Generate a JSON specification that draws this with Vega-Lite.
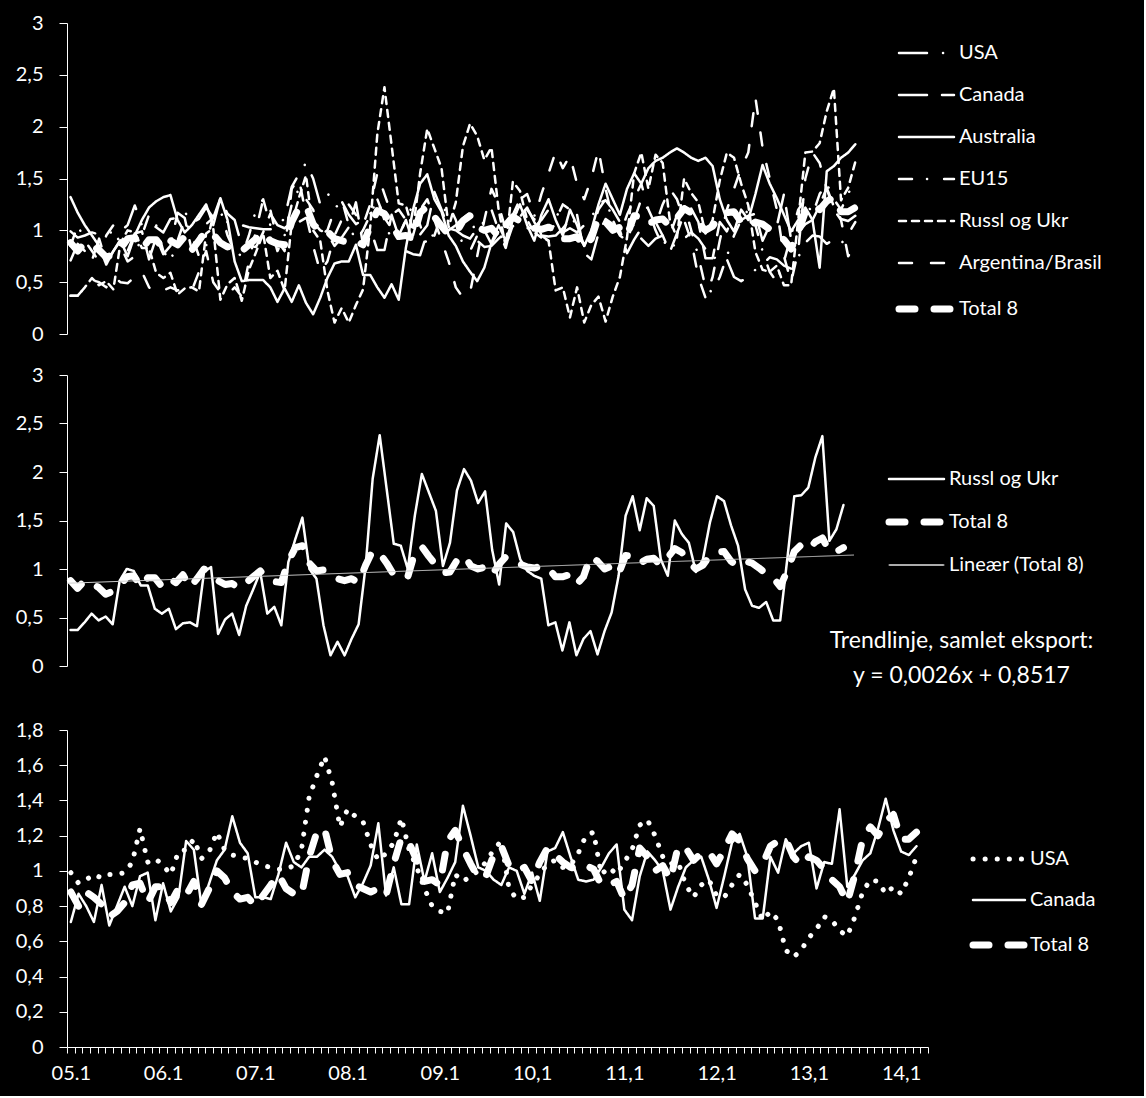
{
  "$schema": "https://vega.github.io/schema/vega-lite/v6.json",
  "background": "black",
  "padding": {"left": 15, "top": 13, "right": 42, "bottom": 13},
  "datasets": {
    "exports": [
      {"m":0,"USA":0.99,"Canada":0.71,"Australia":1.32,"EU15":0.85,"Russl og Ukr":0.37,"Argentina/Brasil":0.37,"Total 8":0.88},
      {"m":1,"USA":0.93,"Canada":0.87,"Australia":1.17,"EU15":1.05,"Russl og Ukr":0.37,"Argentina/Brasil":0.37,"Total 8":0.80},
      {"m":2,"USA":0.95,"Canada":0.80,"Australia":1.05,"EU15":0.90,"Russl og Ukr":0.45,"Argentina/Brasil":0.45,"Total 8":0.88},
      {"m":3,"USA":0.98,"Canada":0.71,"Australia":0.95,"EU15":0.80,"Russl og Ukr":0.54,"Argentina/Brasil":0.52,"Total 8":0.85},
      {"m":4,"USA":0.96,"Canada":0.92,"Australia":0.85,"EU15":0.70,"Russl og Ukr":0.47,"Argentina/Brasil":0.50,"Total 8":0.81},
      {"m":5,"USA":0.98,"Canada":0.69,"Australia":0.67,"EU15":0.95,"Russl og Ukr":0.51,"Argentina/Brasil":0.45,"Total 8":0.74},
      {"m":6,"USA":0.98,"Canada":0.80,"Australia":0.80,"EU15":1.05,"Russl og Ukr":0.43,"Argentina/Brasil":0.55,"Total 8":0.77},
      {"m":7,"USA":0.99,"Canada":0.91,"Australia":0.90,"EU15":0.85,"Russl og Ukr":0.88,"Argentina/Brasil":0.50,"Total 8":0.82},
      {"m":8,"USA":1.05,"Canada":0.80,"Australia":0.75,"EU15":0.70,"Russl og Ukr":1.00,"Argentina/Brasil":0.49,"Total 8":0.92},
      {"m":9,"USA":1.24,"Canada":0.97,"Australia":0.95,"EU15":0.75,"Russl og Ukr":0.98,"Argentina/Brasil":0.55,"Total 8":0.93},
      {"m":10,"USA":1.05,"Canada":0.99,"Australia":1.10,"EU15":0.95,"Russl og Ukr":0.83,"Argentina/Brasil":0.60,"Total 8":0.82},
      {"m":11,"USA":1.07,"Canada":0.72,"Australia":1.22,"EU15":1.15,"Russl og Ukr":0.83,"Argentina/Brasil":0.45,"Total 8":0.91},
      {"m":12,"USA":1.03,"Canada":0.93,"Australia":1.28,"EU15":1.05,"Russl og Ukr":0.59,"Argentina/Brasil":0.40,"Total 8":0.91},
      {"m":13,"USA":0.98,"Canada":0.77,"Australia":1.32,"EU15":0.80,"Russl og Ukr":0.54,"Argentina/Brasil":0.42,"Total 8":0.82},
      {"m":14,"USA":1.11,"Canada":0.85,"Australia":1.34,"EU15":0.70,"Russl og Ukr":0.59,"Argentina/Brasil":0.45,"Total 8":0.90},
      {"m":15,"USA":1.12,"Canada":1.17,"Australia":1.10,"EU15":0.90,"Russl og Ukr":0.38,"Argentina/Brasil":0.42,"Total 8":0.86},
      {"m":16,"USA":1.18,"Canada":1.12,"Australia":0.98,"EU15":1.10,"Russl og Ukr":0.44,"Argentina/Brasil":0.43,"Total 8":0.94},
      {"m":17,"USA":1.07,"Canada":0.80,"Australia":1.05,"EU15":0.95,"Russl og Ukr":0.45,"Argentina/Brasil":0.42,"Total 8":0.81},
      {"m":18,"USA":1.11,"Canada":0.93,"Australia":1.15,"EU15":0.75,"Russl og Ukr":0.41,"Argentina/Brasil":0.60,"Total 8":0.90},
      {"m":19,"USA":1.22,"Canada":1.06,"Australia":1.25,"EU15":0.85,"Russl og Ukr":0.97,"Argentina/Brasil":0.80,"Total 8":1.00},
      {"m":20,"USA":1.12,"Canada":1.12,"Australia":1.05,"EU15":1.15,"Russl og Ukr":1.02,"Argentina/Brasil":0.50,"Total 8":0.96},
      {"m":21,"USA":1.09,"Canada":1.31,"Australia":1.31,"EU15":1.20,"Russl og Ukr":0.33,"Argentina/Brasil":0.40,"Total 8":0.88},
      {"m":22,"USA":1.08,"Canada":1.16,"Australia":1.10,"EU15":0.95,"Russl og Ukr":0.48,"Argentina/Brasil":0.38,"Total 8":0.84},
      {"m":23,"USA":1.07,"Canada":1.10,"Australia":0.70,"EU15":0.80,"Russl og Ukr":0.54,"Argentina/Brasil":0.45,"Total 8":0.85},
      {"m":24,"USA":1.05,"Canada":0.85,"Australia":0.51,"EU15":0.75,"Russl og Ukr":0.32,"Argentina/Brasil":0.36,"Total 8":0.80},
      {"m":25,"USA":1.03,"Canada":0.85,"Australia":0.52,"EU15":0.95,"Russl og Ukr":0.62,"Argentina/Brasil":0.70,"Total 8":0.86},
      {"m":26,"USA":1.02,"Canada":0.84,"Australia":0.52,"EU15":1.20,"Russl og Ukr":0.79,"Argentina/Brasil":1.00,"Total 8":0.92},
      {"m":27,"USA":1.01,"Canada":0.98,"Australia":0.52,"EU15":1.30,"Russl og Ukr":0.97,"Argentina/Brasil":1.30,"Total 8":0.98},
      {"m":28,"USA":1.01,"Canada":1.16,"Australia":0.45,"EU15":1.05,"Russl og Ukr":0.54,"Argentina/Brasil":1.20,"Total 8":0.90},
      {"m":29,"USA":1.03,"Canada":1.05,"Australia":0.31,"EU15":0.80,"Russl og Ukr":0.61,"Argentina/Brasil":0.90,"Total 8":0.87},
      {"m":30,"USA":1.12,"Canada":1.02,"Australia":0.44,"EU15":0.95,"Russl og Ukr":0.42,"Argentina/Brasil":0.80,"Total 8":0.86},
      {"m":31,"USA":1.42,"Canada":1.08,"Australia":0.31,"EU15":1.25,"Russl og Ukr":1.07,"Argentina/Brasil":1.40,"Total 8":1.08},
      {"m":32,"USA":1.54,"Canada":1.08,"Australia":0.47,"EU15":1.40,"Russl og Ukr":1.31,"Argentina/Brasil":1.50,"Total 8":1.22},
      {"m":33,"USA":1.65,"Canada":1.12,"Australia":0.30,"EU15":1.30,"Russl og Ukr":1.53,"Argentina/Brasil":1.15,"Total 8":1.24},
      {"m":34,"USA":1.50,"Canada":1.08,"Australia":0.19,"EU15":1.20,"Russl og Ukr":1.00,"Argentina/Brasil":0.85,"Total 8":1.06},
      {"m":35,"USA":1.25,"Canada":1.00,"Australia":0.35,"EU15":0.95,"Russl og Ukr":0.90,"Argentina/Brasil":0.60,"Total 8":0.98},
      {"m":36,"USA":1.35,"Canada":0.97,"Australia":0.54,"EU15":1.00,"Russl og Ukr":0.42,"Argentina/Brasil":0.70,"Total 8":0.99},
      {"m":37,"USA":1.31,"Canada":0.85,"Australia":0.68,"EU15":1.20,"Russl og Ukr":0.11,"Argentina/Brasil":0.95,"Total 8":0.92},
      {"m":38,"USA":1.28,"Canada":0.93,"Australia":0.70,"EU15":1.30,"Russl og Ukr":0.25,"Argentina/Brasil":1.10,"Total 8":0.90},
      {"m":39,"USA":1.15,"Canada":1.03,"Australia":0.70,"EU15":1.05,"Russl og Ukr":0.11,"Argentina/Brasil":1.25,"Total 8":0.88},
      {"m":40,"USA":1.06,"Canada":1.27,"Australia":0.86,"EU15":0.90,"Russl og Ukr":0.28,"Argentina/Brasil":1.15,"Total 8":0.90},
      {"m":41,"USA":1.10,"Canada":0.86,"Australia":0.57,"EU15":1.00,"Russl og Ukr":0.43,"Argentina/Brasil":1.05,"Total 8":0.86},
      {"m":42,"USA":1.16,"Canada":1.02,"Australia":0.57,"EU15":1.15,"Russl og Ukr":1.03,"Argentina/Brasil":1.25,"Total 8":1.04},
      {"m":43,"USA":1.30,"Canada":0.81,"Australia":0.45,"EU15":1.30,"Russl og Ukr":1.93,"Argentina/Brasil":1.55,"Total 8":1.19},
      {"m":44,"USA":1.12,"Canada":0.81,"Australia":0.35,"EU15":1.10,"Russl og Ukr":2.38,"Argentina/Brasil":1.35,"Total 8":1.16},
      {"m":45,"USA":1.02,"Canada":1.15,"Australia":0.48,"EU15":0.90,"Russl og Ukr":1.82,"Argentina/Brasil":1.15,"Total 8":1.06},
      {"m":46,"USA":0.90,"Canada":0.94,"Australia":0.33,"EU15":0.95,"Russl og Ukr":1.26,"Argentina/Brasil":1.20,"Total 8":0.94},
      {"m":47,"USA":0.80,"Canada":1.10,"Australia":0.83,"EU15":1.10,"Russl og Ukr":1.24,"Argentina/Brasil":1.10,"Total 8":0.95},
      {"m":48,"USA":0.77,"Canada":0.88,"Australia":1.20,"EU15":1.25,"Russl og Ukr":1.00,"Argentina/Brasil":0.95,"Total 8":0.92},
      {"m":49,"USA":0.76,"Canada":0.96,"Australia":1.45,"EU15":1.05,"Russl og Ukr":1.55,"Argentina/Brasil":1.20,"Total 8":1.17},
      {"m":50,"USA":0.98,"Canada":1.05,"Australia":1.54,"EU15":0.85,"Russl og Ukr":1.98,"Argentina/Brasil":1.30,"Total 8":1.23},
      {"m":51,"USA":0.94,"Canada":1.37,"Australia":1.30,"EU15":0.95,"Russl og Ukr":1.79,"Argentina/Brasil":1.10,"Total 8":1.13},
      {"m":52,"USA":0.97,"Canada":1.20,"Australia":1.18,"EU15":1.15,"Russl og Ukr":1.60,"Argentina/Brasil":0.90,"Total 8":1.04},
      {"m":53,"USA":1.00,"Canada":1.02,"Australia":0.95,"EU15":1.25,"Russl og Ukr":1.03,"Argentina/Brasil":0.70,"Total 8":0.96},
      {"m":54,"USA":1.05,"Canada":1.00,"Australia":0.85,"EU15":1.10,"Russl og Ukr":1.27,"Argentina/Brasil":0.45,"Total 8":0.97},
      {"m":55,"USA":1.12,"Canada":0.95,"Australia":0.70,"EU15":0.85,"Russl og Ukr":1.81,"Argentina/Brasil":0.35,"Total 8":1.09},
      {"m":56,"USA":1.17,"Canada":0.92,"Australia":0.60,"EU15":0.80,"Russl og Ukr":2.03,"Argentina/Brasil":0.40,"Total 8":1.14},
      {"m":57,"USA":0.90,"Canada":1.02,"Australia":0.51,"EU15":0.95,"Russl og Ukr":1.91,"Argentina/Brasil":0.75,"Total 8":1.03},
      {"m":58,"USA":0.84,"Canada":1.00,"Australia":0.64,"EU15":1.10,"Russl og Ukr":1.68,"Argentina/Brasil":1.10,"Total 8":1.00},
      {"m":59,"USA":0.85,"Canada":0.87,"Australia":0.88,"EU15":1.20,"Russl og Ukr":1.80,"Argentina/Brasil":1.40,"Total 8":1.02},
      {"m":60,"USA":0.92,"Canada":0.99,"Australia":1.05,"EU15":1.00,"Russl og Ukr":1.20,"Argentina/Brasil":1.25,"Total 8":0.94},
      {"m":61,"USA":0.98,"Canada":0.83,"Australia":0.90,"EU15":0.85,"Russl og Ukr":0.84,"Argentina/Brasil":1.00,"Total 8":1.05},
      {"m":62,"USA":1.04,"Canada":1.11,"Australia":1.10,"EU15":1.05,"Russl og Ukr":1.47,"Argentina/Brasil":1.15,"Total 8":1.13},
      {"m":63,"USA":1.06,"Canada":1.13,"Australia":1.25,"EU15":1.30,"Russl og Ukr":1.38,"Argentina/Brasil":1.30,"Total 8":1.09},
      {"m":64,"USA":1.02,"Canada":1.22,"Australia":1.05,"EU15":1.35,"Russl og Ukr":1.10,"Argentina/Brasil":1.20,"Total 8":1.05},
      {"m":65,"USA":1.03,"Canada":1.08,"Australia":0.90,"EU15":1.15,"Russl og Ukr":0.98,"Argentina/Brasil":1.10,"Total 8":1.02},
      {"m":66,"USA":1.10,"Canada":0.95,"Australia":1.15,"EU15":0.95,"Russl og Ukr":0.93,"Argentina/Brasil":1.35,"Total 8":1.01},
      {"m":67,"USA":1.20,"Canada":0.94,"Australia":1.30,"EU15":0.90,"Russl og Ukr":0.90,"Argentina/Brasil":1.55,"Total 8":1.03},
      {"m":68,"USA":1.22,"Canada":0.95,"Australia":1.10,"EU15":1.10,"Russl og Ukr":0.42,"Argentina/Brasil":1.76,"Total 8":1.01},
      {"m":69,"USA":0.98,"Canada":1.02,"Australia":0.95,"EU15":1.25,"Russl og Ukr":0.45,"Argentina/Brasil":1.60,"Total 8":0.92},
      {"m":70,"USA":1.02,"Canada":1.10,"Australia":1.20,"EU15":1.20,"Russl og Ukr":0.16,"Argentina/Brasil":1.72,"Total 8":0.92},
      {"m":71,"USA":0.98,"Canada":1.15,"Australia":1.05,"EU15":1.00,"Russl og Ukr":0.45,"Argentina/Brasil":1.45,"Total 8":0.94},
      {"m":72,"USA":1.05,"Canada":0.78,"Australia":0.85,"EU15":0.85,"Russl og Ukr":0.11,"Argentina/Brasil":1.30,"Total 8":0.84},
      {"m":73,"USA":1.12,"Canada":0.72,"Australia":1.00,"EU15":1.00,"Russl og Ukr":0.28,"Argentina/Brasil":1.50,"Total 8":0.92},
      {"m":74,"USA":1.26,"Canada":0.97,"Australia":1.25,"EU15":1.20,"Russl og Ukr":0.36,"Argentina/Brasil":1.78,"Total 8":1.13},
      {"m":75,"USA":1.29,"Canada":1.11,"Australia":1.45,"EU15":1.30,"Russl og Ukr":0.12,"Argentina/Brasil":1.40,"Total 8":1.08},
      {"m":76,"USA":1.20,"Canada":1.06,"Australia":1.30,"EU15":1.10,"Russl og Ukr":0.36,"Argentina/Brasil":1.10,"Total 8":1.00},
      {"m":77,"USA":1.08,"Canada":1.00,"Australia":1.15,"EU15":0.95,"Russl og Ukr":0.55,"Argentina/Brasil":0.95,"Total 8":1.03},
      {"m":78,"USA":1.04,"Canada":0.78,"Australia":1.40,"EU15":0.90,"Russl og Ukr":0.93,"Argentina/Brasil":1.15,"Total 8":0.95},
      {"m":79,"USA":1.05,"Canada":0.91,"Australia":1.55,"EU15":1.10,"Russl og Ukr":1.55,"Argentina/Brasil":1.30,"Total 8":1.14},
      {"m":80,"USA":0.92,"Canada":1.02,"Australia":1.45,"EU15":1.30,"Russl og Ukr":1.75,"Argentina/Brasil":1.45,"Total 8":1.13},
      {"m":81,"USA":0.85,"Canada":1.06,"Australia":1.60,"EU15":1.20,"Russl og Ukr":1.40,"Argentina/Brasil":1.20,"Total 8":1.06},
      {"m":82,"USA":0.92,"Canada":1.08,"Australia":1.67,"EU15":1.00,"Russl og Ukr":1.73,"Argentina/Brasil":1.05,"Total 8":1.10},
      {"m":83,"USA":0.95,"Canada":0.95,"Australia":1.70,"EU15":0.85,"Russl og Ukr":1.65,"Argentina/Brasil":1.25,"Total 8":1.11},
      {"m":84,"USA":0.86,"Canada":0.79,"Australia":1.75,"EU15":0.95,"Russl og Ukr":1.10,"Argentina/Brasil":1.40,"Total 8":1.04},
      {"m":85,"USA":0.85,"Canada":0.97,"Australia":1.79,"EU15":1.15,"Russl og Ukr":0.93,"Argentina/Brasil":1.30,"Total 8":1.12},
      {"m":86,"USA":0.92,"Canada":1.16,"Australia":1.75,"EU15":1.25,"Russl og Ukr":1.50,"Argentina/Brasil":1.10,"Total 8":1.21},
      {"m":87,"USA":0.98,"Canada":1.21,"Australia":1.70,"EU15":1.00,"Russl og Ukr":1.36,"Argentina/Brasil":0.90,"Total 8":1.17},
      {"m":88,"USA":0.92,"Canada":1.08,"Australia":1.67,"EU15":0.75,"Russl og Ukr":1.27,"Argentina/Brasil":0.55,"Total 8":1.07},
      {"m":89,"USA":0.82,"Canada":0.73,"Australia":1.70,"EU15":0.45,"Russl og Ukr":0.97,"Argentina/Brasil":0.35,"Total 8":1.00},
      {"m":90,"USA":0.72,"Canada":0.73,"Australia":1.62,"EU15":0.40,"Russl og Ukr":1.10,"Argentina/Brasil":0.55,"Total 8":1.04},
      {"m":91,"USA":0.77,"Canada":1.08,"Australia":1.30,"EU15":0.55,"Russl og Ukr":1.48,"Argentina/Brasil":0.90,"Total 8":1.14},
      {"m":92,"USA":0.72,"Canada":0.99,"Australia":1.10,"EU15":0.75,"Russl og Ukr":1.75,"Argentina/Brasil":1.20,"Total 8":1.17},
      {"m":93,"USA":0.55,"Canada":1.18,"Australia":0.99,"EU15":0.95,"Russl og Ukr":1.70,"Argentina/Brasil":1.40,"Total 8":1.18},
      {"m":94,"USA":0.51,"Canada":1.10,"Australia":1.20,"EU15":1.10,"Russl og Ukr":1.45,"Argentina/Brasil":1.60,"Total 8":1.08},
      {"m":95,"USA":0.55,"Canada":1.14,"Australia":1.10,"EU15":1.20,"Russl og Ukr":1.24,"Argentina/Brasil":1.75,"Total 8":1.03},
      {"m":96,"USA":0.62,"Canada":1.16,"Australia":1.35,"EU15":1.05,"Russl og Ukr":0.79,"Argentina/Brasil":2.28,"Total 8":1.08},
      {"m":97,"USA":0.67,"Canada":0.90,"Australia":1.63,"EU15":0.80,"Russl og Ukr":0.62,"Argentina/Brasil":1.80,"Total 8":1.06},
      {"m":98,"USA":0.74,"Canada":1.05,"Australia":1.45,"EU15":0.60,"Russl og Ukr":0.60,"Argentina/Brasil":1.50,"Total 8":1.01},
      {"m":99,"USA":0.72,"Canada":1.04,"Australia":1.31,"EU15":0.50,"Russl og Ukr":0.66,"Argentina/Brasil":1.20,"Total 8":0.95},
      {"m":100,"USA":0.66,"Canada":1.35,"Australia":1.15,"EU15":0.70,"Russl og Ukr":0.47,"Argentina/Brasil":0.75,"Total 8":0.91},
      {"m":101,"USA":0.63,"Canada":0.91,"Australia":0.99,"EU15":0.95,"Russl og Ukr":0.47,"Argentina/Brasil":0.50,"Total 8":0.82},
      {"m":102,"USA":0.74,"Canada":0.98,"Australia":1.10,"EU15":1.20,"Russl og Ukr":1.10,"Argentina/Brasil":0.80,"Total 8":0.98},
      {"m":103,"USA":0.88,"Canada":1.06,"Australia":1.22,"EU15":1.30,"Russl og Ukr":1.75,"Argentina/Brasil":1.50,"Total 8":1.18},
      {"m":104,"USA":0.95,"Canada":1.10,"Australia":1.10,"EU15":1.15,"Russl og Ukr":1.76,"Argentina/Brasil":1.75,"Total 8":1.25},
      {"m":105,"USA":0.94,"Canada":1.24,"Australia":0.64,"EU15":1.35,"Russl og Ukr":1.84,"Argentina/Brasil":1.65,"Total 8":1.20},
      {"m":106,"USA":0.87,"Canada":1.41,"Australia":1.57,"EU15":1.45,"Russl og Ukr":2.15,"Argentina/Brasil":1.40,"Total 8":1.28},
      {"m":107,"USA":0.91,"Canada":1.23,"Australia":1.62,"EU15":1.30,"Russl og Ukr":2.37,"Argentina/Brasil":1.20,"Total 8":1.32},
      {"m":108,"USA":0.87,"Canada":1.11,"Australia":1.70,"EU15":1.20,"Russl og Ukr":1.29,"Argentina/Brasil":1.10,"Total 8":1.18},
      {"m":109,"USA":0.96,"Canada":1.09,"Australia":1.75,"EU15":1.35,"Russl og Ukr":1.41,"Argentina/Brasil":0.75,"Total 8":1.18},
      {"m":110,"USA":1.08,"Canada":1.14,"Australia":1.83,"EU15":1.50,"Russl og Ukr":1.66,"Argentina/Brasil":0.86,"Total 8":1.22}
    ],
    "trend": [
      {"m": -0.5, "series": "Lineær (Total 8)", "v": 0.853},
      {"m": 111.5, "series": "Lineær (Total 8)", "v": 1.144}
    ]
  },
  "spacing": 32,
  "resolve": {"scale": {"x": "independent", "y": "independent", "strokeDash": "independent"}, "legend": {"strokeDash": "independent"}},
  "vconcat": [
    {
      "spacing": 21,
      "resolve": {"scale": {"x": "independent", "y": "independent", "strokeDash": "independent"}, "legend": {"strokeDash": "independent"}},
      "vconcat": [
        {
          "width": 799,
          "height": 311,
          "data": {"name": "exports"},
          "transform": [{"fold": ["USA", "Canada", "Australia", "EU15", "Russl og Ukr", "Argentina/Brasil", "Total 8"], "as": ["series", "v"]}],
          "mark": {"type": "line", "color": "white", "strokeCap": "round", "strokeJoin": "round"},
          "encoding": {
            "x": {"field": "m", "type": "quantitative", "scale": {"domain": [-0.5, 111.5], "nice": false, "zero": false}, "axis": null},
            "y": {"field": "v", "type": "quantitative", "scale": {"domain": [0, 3], "nice": false}, "axis": {"title": null, "values": [0, 0.5, 1, 1.5, 2, 2.5, 3], "labelExpr": "replace(format(datum.value, ''), '.', ',')"}},
            "strokeDash": {
              "field": "series", "type": "nominal",
              "scale": {"domain": ["USA", "Canada", "Australia", "EU15", "Russl og Ukr", "Argentina/Brasil", "Total 8"],
                        "range": [[28, 16, 0.1, 16], [28, 15], [1, 0], [13, 15, 0.1, 17], [7, 6], [13, 19], [16, 19]]},
              "legend": {"title": null, "orient": "none", "direction": "vertical", "legendX": 822, "legendY": 20,
                         "symbolType": "M0,0H10", "symbolSize": 121, "labelOffset": 50, "rowPadding": 22,
                         "symbolStrokeWidth": {"expr": "datum.value === 'Total 8' ? 7 : 2.5"},
                         "encode": {"symbols": {"update": {"strokeCap": {"value": "round"}}}}}
            },
            "strokeWidth": {"condition": {"test": "datum.series === 'Total 8'", "value": 7}, "value": 2.5}
          }
        },
        {
          "width": 787,
          "height": 291,
          "layer": [
            {
              "data": {"name": "exports"},
              "transform": [{"fold": ["Russl og Ukr", "Total 8"], "as": ["series", "v"]}],
              "mark": {"type": "line", "color": "white", "strokeCap": "round", "strokeJoin": "round"},
              "encoding": {
                "x": {"field": "m", "type": "quantitative", "scale": {"domain": [-0.5, 111.5], "nice": false, "zero": false}, "axis": null},
                "y": {"field": "v", "type": "quantitative", "scale": {"domain": [0, 3], "nice": false}, "axis": {"title": null, "values": [0, 0.5, 1, 1.5, 2, 2.5, 3], "labelExpr": "replace(format(datum.value, ''), '.', ',')"}},
                "strokeDash": {
                  "field": "series", "type": "nominal",
                  "scale": {"domain": ["Russl og Ukr", "Total 8", "Lineær (Total 8)"], "range": [[1, 0], [16, 19], [1, 0]]},
                  "legend": {"title": null, "orient": "none", "direction": "vertical", "legendX": 812, "legendY": 94,
                             "symbolType": "M0,0H10", "symbolSize": 121, "labelOffset": 50, "rowPadding": 19,
                             "symbolStrokeWidth": {"expr": "datum.value === 'Total 8' ? 7 : (datum.value === 'Russl og Ukr' ? 2.5 : 1)"},
                             "encode": {"symbols": {"update": {"strokeCap": {"value": "round"}}}}}
                },
                "strokeWidth": {"condition": {"test": "datum.series === 'Total 8'", "value": 7}, "value": 2.5}
              }
            },
            {
              "data": {"name": "trend"},
              "mark": {"type": "line", "color": "#d0d0d0"},
              "encoding": {
                "x": {"field": "m", "type": "quantitative"},
                "y": {"field": "v", "type": "quantitative"},
                "strokeDash": {"field": "series", "type": "nominal"},
                "strokeWidth": {"value": 1}
              }
            },
            {
              "data": {"values": [{}]},
              "mark": {"type": "text", "color": "white", "font": "Lato", "fontSize": 23, "align": "center", "baseline": "middle", "lineHeight": 35},
              "encoding": {
                "x": {"datum": 126.8, "type": "quantitative"},
                "y": {"datum": 0.26, "type": "quantitative"},
                "text": {"value": ["Trendlinje, samlet eksport:", "y = 0,0026x + 0,8517"]}
              }
            }
          ]
        }
      ]
    },
    {
      "vconcat": [
        {
          "width": 861,
          "height": 317,
          "data": {"name": "exports"},
          "transform": [{"fold": ["USA", "Canada", "Total 8"], "as": ["series", "v"]}],
          "mark": {"type": "line", "color": "white", "strokeCap": "round", "strokeJoin": "round"},
          "encoding": {
            "x": {"field": "m", "type": "quantitative", "scale": {"domain": [-0.5, 111.5], "nice": false, "zero": false},
                  "axis": {"title": null, "tickSize": 6, "labelPadding": 10, "labelOffset": 3.84, "labelOverlap": false, "labelFlush": false, "labelBound": false,
                           "values": [-0.5,0.5,1.5,2.5,3.5,4.5,5.5,6.5,7.5,8.5,9.5,10.5,11.5,12.5,13.5,14.5,15.5,16.5,17.5,18.5,19.5,20.5,21.5,22.5,23.5,24.5,25.5,26.5,27.5,28.5,29.5,30.5,31.5,32.5,33.5,34.5,35.5,36.5,37.5,38.5,39.5,40.5,41.5,42.5,43.5,44.5,45.5,46.5,47.5,48.5,49.5,50.5,51.5,52.5,53.5,54.5,55.5,56.5,57.5,58.5,59.5,60.5,61.5,62.5,63.5,64.5,65.5,66.5,67.5,68.5,69.5,70.5,71.5,72.5,73.5,74.5,75.5,76.5,77.5,78.5,79.5,80.5,81.5,82.5,83.5,84.5,85.5,86.5,87.5,88.5,89.5,90.5,91.5,92.5,93.5,94.5,95.5,96.5,97.5,98.5,99.5,100.5,101.5,102.5,103.5,104.5,105.5,106.5,107.5,108.5,109.5,110.5,111.5],
                           "labelExpr": "(datum.value + 0.5) % 12 === 0 ? (((datum.value + 0.5) / 12 + 5) < 10 ? '0' + ((datum.value + 0.5) / 12 + 5) + '.1' : ((datum.value + 0.5) / 12 + 5) + ',1') : ''"}},
            "y": {"field": "v", "type": "quantitative", "scale": {"domain": [0, 1.8], "nice": false}, "axis": {"title": null, "values": [0, 0.2, 0.4, 0.6, 0.8, 1, 1.2, 1.4, 1.6, 1.8], "labelExpr": "replace(format(datum.value, ''), '.', ',')"}},
            "strokeDash": {
              "field": "series", "type": "nominal",
              "scale": {"domain": ["USA", "Canada", "Total 8"], "range": [[0.1, 12], [1, 0], [16, 19]]},
              "legend": {"title": null, "orient": "none", "direction": "vertical", "legendX": 896, "legendY": 119,
                         "symbolType": "M0,0H10", "symbolSize": 108, "labelOffset": 47, "rowPadding": 21,
                         "symbolStrokeWidth": {"expr": "datum.value === 'Total 8' ? 7 : (datum.value === 'USA' ? 5 : 2.5)"},
                         "encode": {"symbols": {"update": {"strokeCap": {"value": "round"}}}}}
            },
            "strokeWidth": {"condition": [{"test": "datum.series === 'Total 8'", "value": 7}, {"test": "datum.series === 'USA'", "value": 5}], "value": 2.5}
          }
        }
      ]
    }
  ],
  "config": {
    "view": {"stroke": null},
    "font": "Lato",
    "axis": {"labelFont": "Lato", "labelFontSize": 20, "labelColor": "white", "domainColor": "white", "tickColor": "white", "grid": false, "tickSize": 8, "labelPadding": 16, "domainWidth": 1, "tickWidth": 1},
    "legend": {"labelFont": "Lato", "labelFontSize": 20, "labelColor": "white", "symbolStrokeColor": "white", "padding": 0, "labelLimit": 300}
  }
}
